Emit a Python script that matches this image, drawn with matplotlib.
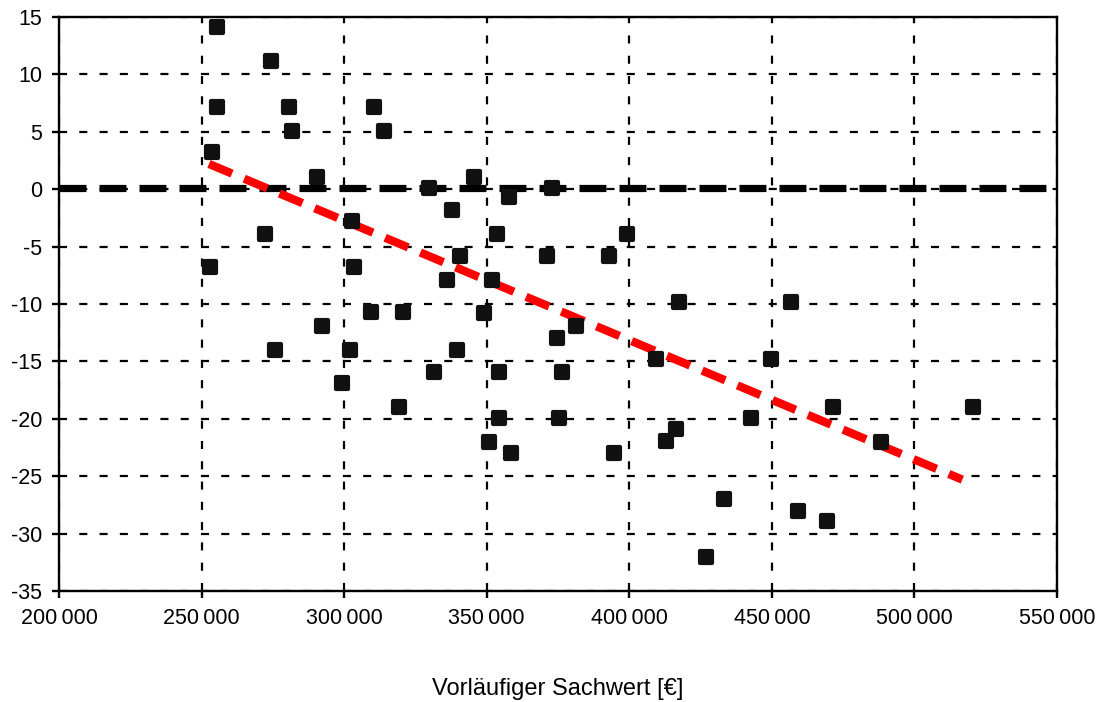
import matplotlib
matplotlib.use("Agg")
import matplotlib.pyplot as plt
from matplotlib.ticker import FuncFormatter
from matplotlib.markers import MarkerStyle

plt.rcParams['font.family'] = ['Liberation Sans', 'DejaVu Sans']
plt.rcParams['axes.unicode_minus'] = False
plt.rcParams['lines.scale_dashes'] = False

# Data: Vorläufiger Sachwert [€] vs. deviation [%]
sachwert = [255400, 274400, 255400, 280700, 281800, 253700, 290400, 272200,
            253000, 275700, 292100, 310500, 313900, 302700, 303600, 309300,
            301900, 299200, 319400, 320700, 329800, 345700, 337800, 357900,
            372900, 353500, 399100, 340500, 371000, 392900, 336000, 351700,
            349100, 381400, 374500, 339500, 331500, 354400, 376300, 354400,
            375500, 350900, 358600, 394500, 417300, 456700, 409500, 449700,
            442700, 416500, 413000, 433100, 459300, 469500, 427000, 471500,
            520600, 488200]
abweichung = [14.1, 11.2, 7.2, 7.2, 5.1, 3.2, 1.1, -3.9,
              -6.8, -14.0, -11.9, 7.2, 5.1, -2.8, -6.8, -10.7,
              -14.0, -16.9, -19.0, -10.7, 0.1, 1.1, -1.8, -0.7,
              0.1, -3.9, -3.9, -5.8, -5.8, -5.8, -7.9, -7.9,
              -10.8, -11.9, -13.0, -14.0, -15.9, -15.9, -15.9, -19.9,
              -19.9, -22.0, -23.0, -23.0, -9.8, -9.8, -14.8, -14.8,
              -19.9, -20.9, -21.9, -27.0, -28.0, -28.9, -32.0, -19.0,
              -19.0, -22.0]

# Trend line (endpoints)
trend_x = [252600, 516800]
trend_y = [2.2, -25.3]

# Reference line near zero
ref_x = [200000, 550000]
ref_y = [0.1, 0.1]

x_ticks = [200000, 250000, 300000, 350000, 400000, 450000, 500000, 550000]
y_ticks = [-35, -30, -25, -20, -15, -10, -5, 0, 5, 10, 15]
x_label = "Vorläufiger Sachwert [€]"

W, H = 1107, 702
fig = plt.figure(figsize=(W / 100, H / 100), dpi=100)
left, right, top, bottom = 59, 1057, 17, 591
ax = fig.add_axes([left / W, (H - bottom) / H, (right - left) / W, (bottom - top) / H])

ax.set_xlim(200000, 550000)
ax.set_ylim(-35, 15)
ax.set_xticks(x_ticks)
ax.set_yticks(y_ticks)

def fmt_x(v, pos):
    s = f"{int(round(v)):,}"
    return s.replace(",", "\u2009")

ax.xaxis.set_major_formatter(FuncFormatter(fmt_x))
ax.yaxis.set_major_formatter(FuncFormatter(lambda v, p: f"{int(round(v))}"))

grid_ls = (0, (5.8, 8.8))
ax.grid(True, color='black', linewidth=1.6, linestyle=grid_ls, zorder=1)
ax.set_axisbelow(True)

for s in ax.spines.values():
    s.set_linewidth(1.7)
    s.set_color('black')

ax.tick_params(axis='both', direction='out', length=5, width=1.7, colors='black',
               labelsize=15.5, pad=7)

# Thick black dashed reference line
ax.plot(ref_x, ref_y, color='black', linewidth=5.2,
        linestyle=(0, (19.4, 9.4)), dash_capstyle='butt', zorder=2)

# Red dashed trend line
ax.plot(trend_x, trend_y, color='#ff0000', linewidth=6.0,
        linestyle=(0, (18, 9.5)), dash_capstyle='butt', zorder=3)

# Scatter points (rounded squares)
mk = MarkerStyle('s', joinstyle='round')
ax.plot(sachwert, abweichung, linestyle='none', marker=mk, markersize=8.0,
        markerfacecolor='#111111', markeredgecolor='#111111', markeredgewidth=3.0,
        zorder=4)

fig.text((left + right) / 2 / W, (H - 695) / H, x_label, ha='center', va='baseline',
         fontsize=17)

fig.savefig("out.png", dpi=100)
